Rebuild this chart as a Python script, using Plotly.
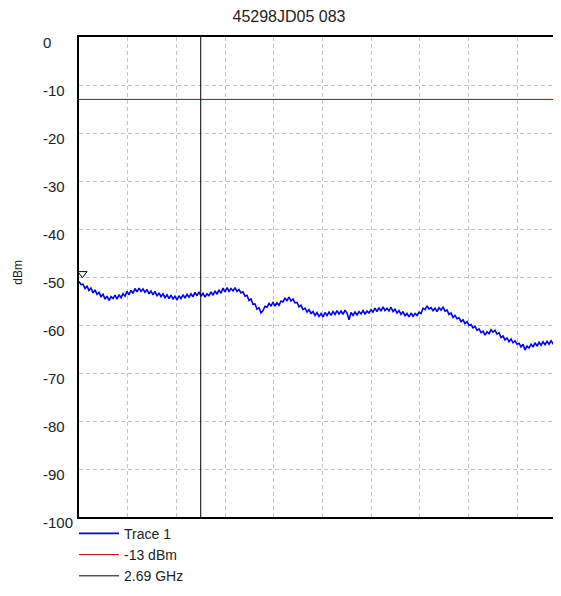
import numpy as np
import plotly.graph_objects as go

title_text = "45298JD05 083"
y_label = "dBm"

# Sweep (GHz): start / stop of the recorded trace, and the visible span
f_start = 2.19
f_stop = 4.17
view_stop = 4.137

# Trace 1 level readings (dBm), evenly spaced across the sweep
trace1_dbm = [
    -50.9, -51.6, -51.5, -52.4, -51.9, -52.8, -52.3, -53.3, -52.7, -53.6, -53.2,
    -54.1, -53.6, -54.6, -54.0, -54.9, -54.1, -54.5, -53.8, -54.6, -53.7, -54.3,
    -53.5, -54.0, -53.0, -53.7, -52.8, -53.4, -52.4, -53.1, -52.3, -53.0, -52.5,
    -53.2, -52.6, -53.5, -52.9, -53.7, -53.0, -54.0, -53.3, -54.1, -53.5, -54.3,
    -53.7, -54.5, -53.8, -54.6, -54.0, -54.8, -53.9, -54.5, -53.7, -54.4, -53.6,
    -54.2, -53.5, -54.1, -53.2, -53.9, -53.1, -54.0, -53.4, -54.2, -53.5, -53.9,
    -53.1, -53.8, -52.9, -53.6, -52.7, -53.4, -52.3, -53.1, -52.2, -53.0, -52.4,
    -52.9, -52.2, -53.0, -52.6, -53.3, -53.1, -54.0, -53.8, -54.9, -54.6, -55.7,
    -55.6, -56.7, -56.4, -57.5, -57.0, -56.1, -56.3, -55.5, -56.0, -55.3, -56.0,
    -55.4, -55.9, -55.0, -55.2, -54.4, -54.9, -54.2, -55.0, -54.6, -55.4, -55.3,
    -56.2, -55.9, -56.8, -56.5, -57.3, -56.8, -57.6, -57.2, -58.0, -57.4, -58.2,
    -57.6, -58.3, -57.4, -58.0, -57.3, -58.0, -57.2, -57.8, -57.0, -57.7, -57.1,
    -57.8, -56.9, -57.5, -58.9, -57.4, -58.0, -57.3, -57.9, -57.2, -57.7, -57.0,
    -57.7, -57.1, -57.5, -56.8, -57.3, -56.5, -57.2, -56.4, -57.1, -56.2, -57.0,
    -56.5, -57.1, -56.3, -57.2, -56.7, -57.5, -57.0, -57.8, -57.2, -58.1, -57.6,
    -58.3, -57.5, -58.2, -57.6, -58.0, -57.3, -57.6, -56.5, -56.8, -56.0, -56.7,
    -56.4, -57.0, -56.5, -57.2, -56.4, -56.9, -56.3, -57.1, -56.9, -57.8, -57.5,
    -58.4, -58.0, -58.7, -58.5, -59.3, -58.9, -59.7, -59.3, -60.1, -59.9, -60.6,
    -60.3, -61.1, -60.8, -61.6, -61.3, -62.1, -61.4, -61.8, -61.0, -61.5, -61.1,
    -61.9, -61.6, -62.6, -62.3, -63.1, -62.7, -63.5, -62.9, -63.7, -63.3, -64.0,
    -63.8, -64.6, -64.0, -65.2, -64.4, -64.8, -64.0, -64.6, -63.7, -64.4, -63.6,
    -64.2, -63.5, -64.1, -63.4, -64.0, -63.3, -63.9, -63.4, -63.8, -63.2, -63.7,
]
freqs = np.linspace(f_start, f_stop, len(trace1_dbm))

limit_dbm = -13
marker_freq = 2.69
marker_sym_freq = [2.204]
marker_sym_dbm = [-49.3]

y_ticks = [0, -10, -20, -30, -40, -50, -60, -70, -80, -90, -100]
y_tick_text = [str(v) for v in y_ticks]

fig = go.Figure()
fig.add_trace(go.Scatter(x=freqs, y=trace1_dbm, mode="lines", name="Trace 1",
                         line=dict(color="#0000ff", width=1.6)))
fig.add_trace(go.Scatter(x=[f_start, f_stop], y=[limit_dbm, limit_dbm], mode="lines",
                         name="-13 dBm", line=dict(color="#c00000", width=1)))
fig.add_trace(go.Scatter(x=[marker_freq, marker_freq], y=[-100, 0], mode="lines",
                         name="2.69 GHz", line=dict(color="#000000", width=1)))
fig.add_trace(go.Scatter(x=marker_sym_freq, y=marker_sym_dbm, mode="markers",
                         showlegend=False, hoverinfo="skip",
                         marker=dict(symbol="triangle-down-open", size=8,
                                     color="#000000", line=dict(width=1))))

plot_w = 474
for v, t in zip(y_ticks, y_tick_text):
    fig.add_annotation(x=-38/plot_w, xref="paper", y=v, yref="y", text=t,
                       showarrow=False, xanchor="left", yanchor="middle",
                       yshift=-5, font=dict(size=15, color="#222222"))

fig.add_annotation(x=-60.5/plot_w, xref="paper", y=-49, yref="y", text=y_label,
                   textangle=-90, showarrow=False, xanchor="center", yanchor="middle",
                   font=dict(size=12, color="#222222"))

# page body has an 8px margin; figure sized so the page does not overflow
fig.update_layout(
    width=545, height=580,
    margin=dict(l=71, r=0, t=29, b=71),
    paper_bgcolor="white", plot_bgcolor="white",
    font=dict(family="Liberation Sans, Arial, sans-serif", size=15, color="#222222"),
    title=dict(text=title_text, x=(289 - 8)/545, xanchor="center", xref="container",
               y=1 - 8/580, yanchor="middle", yref="container",
               font=dict(size=16, color="#222222")),
    showlegend=True,
    legend=dict(x=-5/plot_w, xref="paper", y=0.121, yref="container",
                xanchor="left", yanchor="top",
                bgcolor="rgba(0,0,0,0)", itemwidth=40, tracegroupgap=0,
                font=dict(size=14, color="#222222")),
)
fig.update_xaxes(range=[f_start, view_stop], tick0=f_start, dtick=0.2,
                 showticklabels=False, ticks="",
                 showgrid=True, gridcolor="#c4c4c4", griddash="4px,3px", gridwidth=1,
                 showline=True, linecolor="black", linewidth=2, mirror=True,
                 zeroline=False)
fig.update_yaxes(range=[-100, 0], tickvals=y_ticks, showticklabels=False, ticks="",
                 showgrid=True, gridcolor="#c4c4c4", griddash="4px,3px", gridwidth=1,
                 showline=True, linecolor="black", linewidth=2, mirror=False,
                 zeroline=False)

fig.write_html("out.html")
